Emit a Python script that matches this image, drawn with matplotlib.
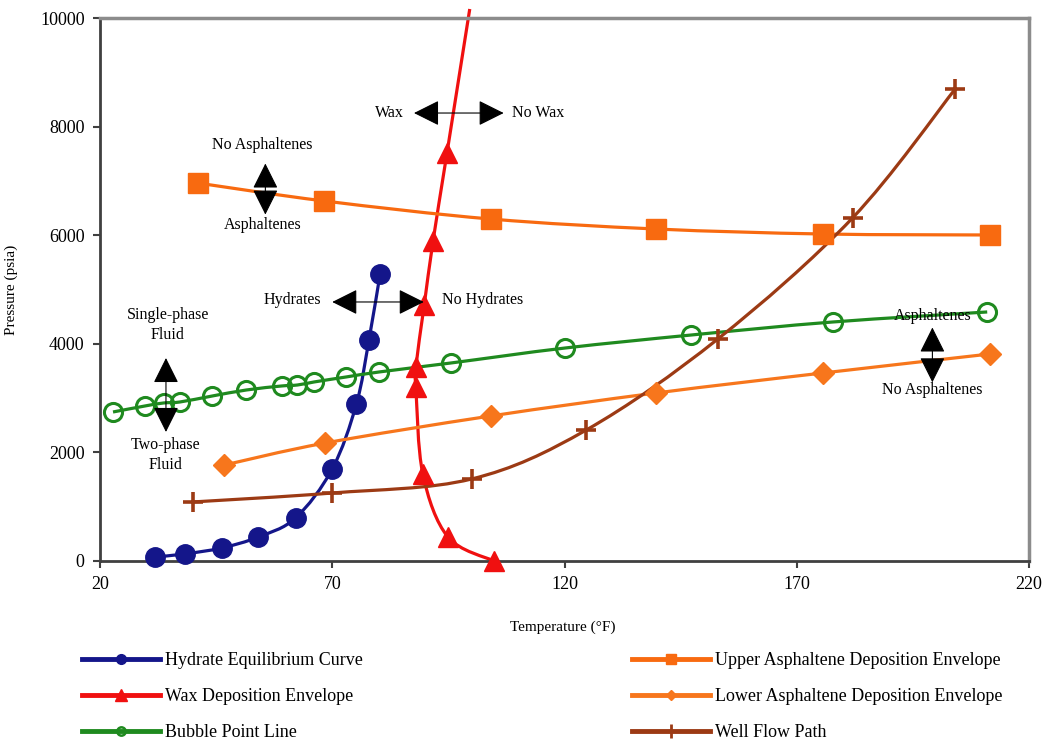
import matplotlib
matplotlib.use("Agg")
import matplotlib.pyplot as plt
import numpy as np
from matplotlib.path import Path
from matplotlib.patches import PathPatch, FancyArrowPatch
from matplotlib.lines import Line2D

plt.rcParams['font.family'] = ['Liberation Serif', 'DejaVu Serif']

# series
hyd_t = [31.8, 38.2, 46.2, 54.1, 62.1, 70.0, 75.2, 77.9, 80.3]
hyd_p = [74, 129, 240, 442, 792, 1694, 2891, 4070, 5285]

wax_t = [104.8, 94.9, 89.5, 88.0, 88.0, 89.8, 91.7, 94.7, 99.6]
wax_p = [0, 442, 1600, 3204, 3573, 4715, 5893, 7514, 10166]

bub_t = [22.8, 29.7, 33.7, 37.2, 44.2, 51.5, 59.1, 62.5, 66.1, 73.0, 80.1, 95.5, 120.2, 147.3, 177.7, 211.0]
bub_p = [2744, 2855, 2910, 2928, 3039, 3149, 3223, 3241, 3297, 3389, 3481, 3646, 3923, 4162, 4401, 4586]

up_t = [41.0, 68.3, 104.1, 139.7, 175.6, 211.6]
up_p = [6961, 6630, 6298, 6114, 6022, 6004]

lo_t = [46.8, 68.5, 104.1, 139.7, 175.6, 211.6]
lo_p = [1768, 2173, 2670, 3094, 3462, 3812]

well_t = [40.0, 70.0, 100.0, 124.7, 153.0, 182.0, 204.1]
well_p = [1087, 1252, 1510, 2413, 4088, 6317, 8692]


def smooth_path(x, y):
    # Excel-like smoothed line: cubic Bezier segments through the points
    p = np.column_stack([x, y]).astype(float)
    verts = [p[0]]
    codes = [Path.MOVETO]
    n = len(p)
    for i in range(n - 1):
        p0 = p[i - 1] if i > 0 else p[i]
        p3 = p[i + 2] if i + 2 < n else p[i + 1]
        c1 = p[i] + (p[i + 1] - p0) / 6.0
        c2 = p[i + 1] - (p3 - p[i]) / 6.0
        verts += [c1, c2, p[i + 1]]
        codes += [Path.CURVE4] * 3
    return Path(verts, codes)


fig = plt.figure(figsize=(10.45, 7.44), dpi=100)
ax = fig.add_axes([0.0957, 0.246, 0.889, 0.7298])

series = [
    (hyd_t, hyd_p, '#14168a', dict(marker='o', ms=14, mfc='#14168a', mec='#14168a')),
    (wax_t, wax_p, '#f01010', dict(marker='^', ms=15, mfc='#f01010', mec='#f01010')),
    (bub_t, bub_p, '#1f8a1f', dict(marker='o', ms=13, mfc='none', mec='#1f8a1f', mew=2.2)),
    (up_t, up_p, '#f86a10', dict(marker='s', ms=15, mfc='#f86a10', mec='#f86a10')),
    (lo_t, lo_p, '#f7761c', dict(marker='D', ms=11, mfc='#f7761c', mec='#f7761c')),
    (well_t, well_p, '#9c3a14', dict(marker='+', ms=15, mec='#9c3a14', mew=2.6)),
]

for t, p, c, mk in series:
    clip = t is not wax_t
    ax.add_patch(PathPatch(smooth_path(t, p), fill=False, edgecolor=c, lw=2.3,
                           clip_on=clip, zorder=2))
    pts = [i for i in range(len(t)) if p[i] <= 10000]
    ax.plot([t[i] for i in pts], [p[i] for i in pts], linestyle='none',
            zorder=3, clip_on=False, **mk)

ax.set_xlim(20, 220)
ax.set_ylim(0, 10000)
ax.set_xticks([20, 70, 120, 170, 220])
ax.set_yticks([0, 2000, 4000, 6000, 8000, 10000])
ax.tick_params(labelsize=13, length=5, width=1.5, color='#404040', pad=6)
for s in ['left', 'bottom']:
    ax.spines[s].set_color('#404040')
    ax.spines[s].set_linewidth(2)
for s in ['top', 'right']:
    ax.spines[s].set_color('#8c8c8c')
    ax.spines[s].set_linewidth(2.5)

ax.set_xlabel('Temperature (°F)', fontsize=11)
ax.set_ylabel('Pressure (psia)', fontsize=11)
ax.xaxis.set_label_coords(0.498, -0.109)
ax.yaxis.set_label_coords(-0.088, 0.5)


def darrow(x0, y0, x1, y1):
    a = FancyArrowPatch((x0, y0), (x1, y1),
                        arrowstyle='<|-|>,head_length=0.8,head_width=0.4',
                        mutation_scale=20, color='black', lw=0.8, zorder=4,
                        shrinkA=0, shrinkB=0)
    ax.add_patch(a)


tk = dict(fontsize=11.5, zorder=5)
darrow(87.6, 8250, 106.9, 8250)
ax.text(85.5, 8250, 'Wax', ha='right', va='center', **tk)
ax.text(108.8, 8250, 'No Wax', ha='left', va='center', **tk)

darrow(55.6, 7320, 55.6, 6380)
ax.text(55.0, 7661, 'No Asphaltenes', ha='center', va='center', **tk)
ax.text(55.0, 6188, 'Asphaltenes', ha='center', va='center', **tk)

darrow(70.0, 4770, 89.7, 4770)
ax.text(67.6, 4800, 'Hydrates', ha='right', va='center', **tk)
ax.text(93.6, 4800, 'No Hydrates', ha='left', va='center', **tk)

darrow(34.2, 3738, 34.2, 2376)
ax.text(34.6, 4346, 'Single-phase\nFluid', ha='center', va='center', linespacing=1.3, **tk)
ax.text(34.2, 1952, 'Two-phase\nFluid', ha='center', va='center', linespacing=1.3, **tk)

darrow(199.2, 4300, 199.2, 3290)
ax.text(199.2, 4512, 'Asphaltenes', ha='center', va='center', **tk)
ax.text(199.2, 3149, 'No Asphaltenes', ha='center', va='center', **tk)

names = ['Hydrate Equilibrium Curve', 'Wax Deposition Envelope', 'Bubble Point Line',
         'Upper Asphaltene Deposition Envelope', 'Lower Asphaltene Deposition Envelope',
         'Well Flow Path']
leg_mk = [dict(marker='o', ms=7), dict(marker='^', ms=8), dict(marker='o', ms=6, mfc='none', mew=1.8),
          dict(marker='s', ms=7), dict(marker='D', ms=5), dict(marker='|', ms=10, mew=2)]
handles = []
for (t, p, c, mk), lm in zip(series, leg_mk):
    handles.append(Line2D([], [], color=c, lw=3.5, mec=c, mfc=lm.pop('mfc', c), **lm))

fig.legend(handles, names, loc='lower left', bbox_to_anchor=(0.063, -0.018), ncol=2,
           frameon=False, fontsize=13, handlelength=4.3, handletextpad=0.3,
           columnspacing=14.9, labelspacing=1.05)

fig.savefig('out.png', dpi=100)
